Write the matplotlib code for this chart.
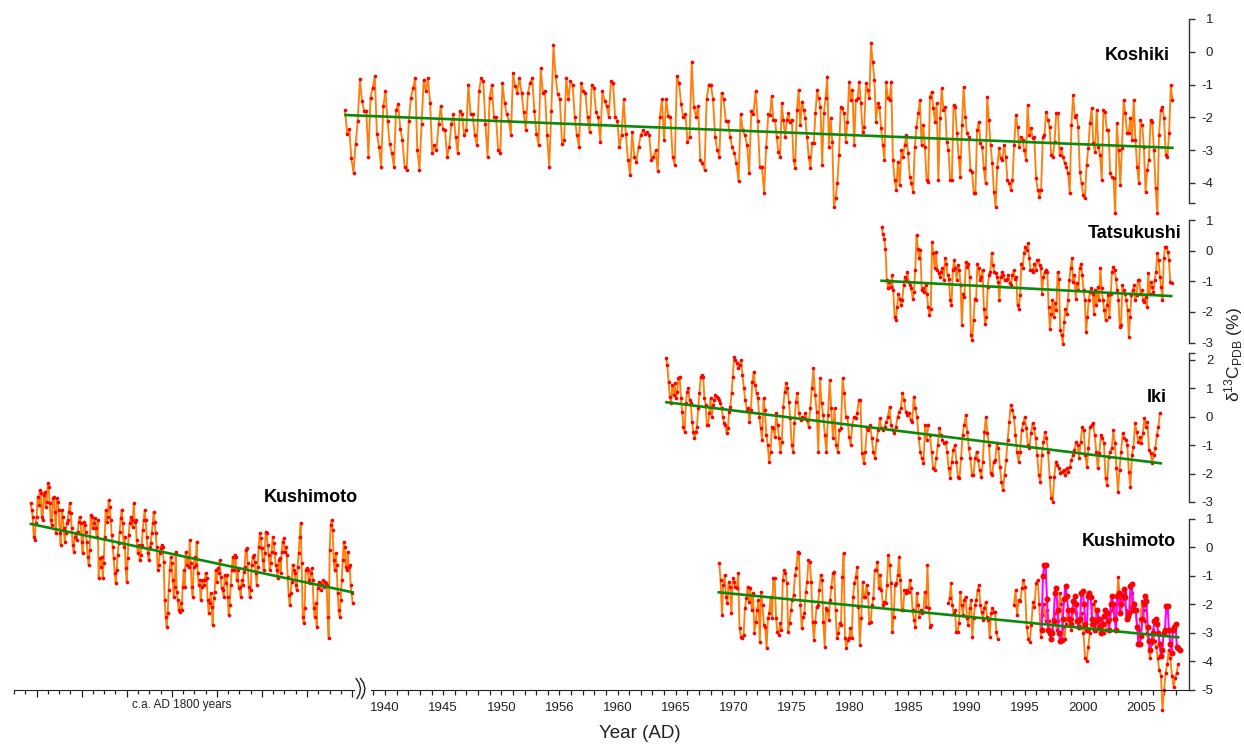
import numpy as np
import matplotlib
matplotlib.use("Agg")
import matplotlib.pyplot as plt
from matplotlib.lines import Line2D

plt.rcParams['font.family'] = ['Liberation Sans', 'DejaVu Sans']
plt.rcParams['axes.unicode_minus'] = False
plt.rcParams['mathtext.fontset'] = 'custom'
plt.rcParams['mathtext.rm'] = 'Liberation Sans'
plt.rcParams['mathtext.it'] = 'Liberation Sans:italic'
plt.rcParams['mathtext.bf'] = 'Liberation Sans:bold'

# ---------------- data (delta13C, per mil) ----------------
# time anchors: (sample index, year); times between anchors are evenly spaced
koshiki_a_anchors = [(0, 1936.56), (-1, 1972.96)]
koshiki_a = [-1.78, -2.5, -2.35, -3.25, -3.7, -2.8, -2.1, -0.84, -1.5, -1.8, -1.8, -3.2, -1.4, -1.1, -0.75, -2.5,
             -2.9, -3.5, -1.67, -1.2, -2.1, -2.8, -3.1, -3.5, -1.78, -1.6, -2.35, -2.7, -3.5, -3.6, -2.1, -1.4,
             -1.1, -0.8, -3.0, -3.6, -2.2, -0.85, -1.2, -0.8, -1.55, -3.1, -2.85, -3.0, -2.2, -1.65, -2.35, -2.4,
             -3.2, -2.9, -2.2, -1.9, -2.6, -3.1, -1.8, -1.9, -2.55, -2.4, -1.0, -1.9, -1.9, -2.55, -2.85, -1.2,
             -0.8, -0.9, -2.2, -3.2, -1.4, -1.0, -2.0, -2.0, -3.0, -3.1, -0.95, -1.55, -1.9, -2.1, -2.55, -0.65,
             -1.05, -1.25, -0.8, -1.25, -1.85, -2.4, -1.25, -0.95, -0.8, -1.8, -2.5, -2.85, -0.5, -1.25, -1.2,
             -2.55, -3.5, -1.8, 0.2, -0.75, -1.3, -1.45, -2.8, -2.7, -0.8, -1.45, -0.9, -1.0, -2.0, -2.55, -2.9,
             -0.95, -1.2, -1.25, -2.0, -2.45, -1.0, -1.1, -1.85, -2.0, -2.75, -1.2, -1.5, -1.65, -2.0, -0.9, -0.95,
             -2.0, -2.1, -2.9, -2.55, -1.45, -2.5, -3.3, -3.75, -2.45, -3.2, -3.35, -2.9, -2.55, -2.4, -2.5,
             -2.45, -2.55, -3.3, -3.2, -3.0, -3.65, -2.0, -1.45, -2.7, -1.45, -1.95, -2.0, -3.2, -3.45, -0.75,
             -0.95, -1.6, -2.0, -1.9, -2.75, -2.6, -0.3, -1.7, -2.0, -1.65, -3.3, -3.4, -3.6, -1.45, -1.0, -1.0,
             -1.45, -2.6, -3.0, -3.2, -1.25, -1.45, -2.1, -2.1, -2.6, -2.9, -3.1, -3.4, -3.95, -1.9, -2.4, -2.55,
             -2.85, -3.7, -1.8, -1.9, -1.2, -2.1, -3.5, -3.5, -4.3, -2.9, -1.9]
koshiki_b_anchors = [(0, 1973.10), (-1, 2007.71)]
koshiki_b = [-1.93, -1.35, -2.08, -2.08, -2.6, -3.05, -3.2, -1.57, -2.08, -2.6, -2.08, -1.88, -2.13, -2.08, -3.3,
             -3.56, -1.78, -1.17, -2.24, -1.52, -1.78, -2.03, -2.6, -3.2, -3.56, -2.79, -2.79, -1.88, -1.17, -1.42,
             -1.68, -3.45, -1.88, -1.42, -0.76, -2.9, -2.03, -2.74, -4.72, -4.47, -4.01, -3.15, -1.68, -1.73,
             -1.88, -2.74, -2.13, -0.91, -1.47, -1.17, -2.85, -1.47, -1.42, -0.91, -1.57, -2.44, -2.29, -0.96,
             -1.17, -1.42, 0.26, -0.3, -0.86, -2.13, -1.57, -1.68, -2.34, -2.85, -3.3, -0.91, -1.42, -1.47, -0.91,
             -3.3, -3.91, -4.21, -3.35, -4.06, -3.0, -3.2, -2.85, -2.54, -3.1, -3.81, -4.01, -4.27, -2.9, -2.29,
             -1.88, -1.47, -2.85, -2.24, -2.9, -3.91, -3.96, -1.37, -1.22, -1.73, -2.13, -1.57, -3.91, -2.03,
             -1.12, -1.78, -1.68, -2.74, -3.0, -3.91, -3.91, -1.63, -1.68, -2.49, -3.2, -3.81, -2.24, -1.07, -1.98,
             -2.49, -2.59, -3.6, -3.66, -4.32, -4.32, -2.39, -2.13, -2.79, -2.9, -3.56, -4.01, -1.37, -2.08, -2.85,
             -3.4, -4.27, -4.72, -3.5, -2.95, -3.25, -3.3, -2.85, -3.2, -3.91, -4.01, -4.21, -3.91, -2.85, -1.93,
             -2.29, -2.9, -2.6, -2.7, -3.0, -3.3, -1.63, -2.54, -2.34, -2.64, -2.6, -3.86, -4.21, -4.42, -4.21,
             -2.6, -2.54, -1.83, -2.08, -2.29, -3.15, -3.2, -2.74, -1.88, -1.88, -3.15, -2.95, -3.2, -3.4, -3.5,
             -3.71, -4.32, -2.24, -1.32, -1.98, -1.93, -2.29, -3.66, -4.01, -4.37, -4.47, -3.45, -2.95, -2.18,
             -1.73, -2.79, -3.05, -1.78, -2.9, -3.15, -3.91, -1.78, -1.83, -2.39, -2.39, -3.71, -3.81, -3.86,
             -4.93, -2.18, -3.0, -4.06, -2.95, -1.47, -1.88, -2.49, -2.49, -2.03, -2.69, -1.47, -2.69, -3.5, -4.01,
             -2.08, -2.24, -2.9, -4.27, -3.6, -3.3, -2.08, -2.13, -3.0, -4.16, -4.93, -2.54, -1.78, -1.68, -2.03,
             -3.15, -3.2, -2.49, -1.02, -1.47]
koshiki_trend_years = [1936.6, 2007.7]
koshiki_trend = [-1.93, -2.93]

tatsukushi_anchors = [(0, 1982.70), (-1, 2007.63)]
tatsukushi = [0.78, 0.54, 0.37, 0.07, -0.96, -1.23, -1.02, -1.18, -0.80, -1.29, -2.16, -2.27, -1.83, -1.40, -1.56,
              -1.78, -1.61, -1.12, -0.85, -0.96, -0.69, -1.02, -1.12, -1.23, -1.56, -1.34, -0.63, 0.51, 0.07, -0.25,
              0.02, -1.29, -1.23, -1.34, -1.12, -1.40, -1.83, -2.10, -1.89, 0.29, -0.09, -0.58, -0.03, -0.63, -0.74,
              -0.85, -0.69, -0.58, -0.96, -0.25, -0.42, -0.80, -0.91, -1.61, -1.78, -0.63, -0.31, -0.58, -0.96,
              -0.47, -0.63, -1.12, -2.43, -1.40, -1.50, -0.36, -0.52, -0.42, -0.85, -2.76, -2.92, -2.27, -1.56,
              -1.61, -0.42, -0.58, -0.96, -0.85, -0.63, -1.89, -2.38, -2.16, -1.18, -0.80, -0.69, -0.09, -0.47,
              -0.69, -0.74, -0.85, -1.02, -1.61, -0.85, -0.69, -0.80, -0.96, -0.96, -0.91, -0.80, -1.07, -1.12,
              -0.80, -0.63, -0.91, -0.85, -1.78, -1.89, -1.45, -0.42, -0.58, -0.09, 0.13, 0.02, 0.24, -0.25, -0.63,
              -0.63, -0.69, -0.42, -0.63, -0.31, -0.31, -0.47, -0.58, -1.40, -0.85, -0.69, -0.63, -0.69, -1.83,
              -2.54, -2.05, -1.61, -2.16, -1.72, -1.94, -0.69, -0.91, -2.60, -2.76, -3.03, -2.32, -1.89, -2.05,
              -1.61, -0.96, -0.58, -0.25, -1.02, -0.80, -1.56, -1.07, -1.29, -0.58, -0.42, -0.80, -1.29, -1.61,
              -2.65, -2.16, -1.61, -1.34, -1.23, -1.40, -2.05, -1.29, -1.78, -1.18, -1.61, -0.58, -1.23, -1.61,
              -1.94, -2.27, -1.78, -1.45, -2.16, -1.40, -0.69, -0.52, -0.63, -0.91, -1.29, -1.61, -2.49, -2.43,
              -1.12, -1.29, -1.40, -1.61, -1.94, -2.81, -2.16, -1.45, -1.29, -1.12, -1.61, -1.45, -0.96, -0.96,
              -1.40, -1.29, -1.61, -1.67, -1.50, -1.83, -0.74, -1.40, -1.02, -1.18, -1.34, -0.96, -0.69, -0.09,
              -0.31, -0.85, -1.18, -1.61, -0.25, 0.13, 0.13, -0.03, -0.31, -1.02, -1.05]
tatsukushi_trend_years = [1982.7, 2007.6]
tatsukushi_trend = [-0.98, -1.48]

iki_a_anchors = [(0, 1964.17), (55, 1970.01), (100, 1975.45), (-1, 1986.72)]
iki_a = [2.06, 1.82, 1.21, 0.71, 0.47, 1.12, 0.76, 1.18, 0.65, 0.88, 1.35, 1.41, 0.65, 0.18, -0.35, -0.53, 0.47,
         0.88, 1.0, 0.59, 0.47, -0.18, -0.53, -0.76, -0.53, -0.35, 0.29, 0.82, 1.41, 1.47, 1.41, 0.65, 0.41, -0.29,
         -0.29, 0.12, 0.65, 0.0, 0.41, 0.59, 0.76, 0.71, 0.65, 0.59, 0.47, 0.29, 0.0, -0.23, -0.29, -0.59, -0.41,
         0.18, 0.35, 0.82, 1.41, 2.11, 2.0, 1.88, 1.70, 1.82, 2.0, 1.47, 1.0, 0.59, 0.24, 0.29, -0.18, 0.24, 1.23,
         1.59, 1.12, 0.82, 0.65, 0.0, -0.41, -0.82, 0.65, 0.24, -0.64, -1.0, -1.58, -1.23, -0.35, -0.41, -0.70,
         0.12, -0.29, -0.76, -1.23, -0.88, 0.35, 0.88, 1.18, 1.0, 0.53, -0.06, -1.0, -1.23, -0.23, 0.53, 0.82,
         0.12, -0.12, 0.0, -0.06, 0.12, -0.12, -0.35, 0.29, 1.0, 1.70, 0.76, 0.18, -1.23, 1.35, 0.47, 0.06, -0.64,
         -1.23, 0.06, 1.29, 0.29, -0.76, 0.29, -1.0, -1.23, -0.47, -0.41, 1.35, 0.82, 0.0, 0.0, -0.70, -1.0,
         -0.29, 0.0, -0.06, 0.12, 0.59, 0.59, -1.29, -1.64, -1.23, -0.41, -0.47, -0.29, -0.76, -1.23, -1.47,
         -0.82, -0.47, -0.06, -0.41, -0.47, -0.35, -0.18, 0.0, 0.35, -0.29, -0.47, -0.59, -0.35, 0.0, 0.18, 0.29,
         0.82, 0.59, 0.18, 0.06, 0.12, -0.12, -0.18, 0.71, 0.29, 0.0, -0.76, -1.23, -1.47, -1.64, -0.29, -0.82,
         -0.29]
iki_b_anchors = [(0, 1986.86), (-1, 2006.63)]
iki_b = [-0.64, -1.23, -1.82, -1.88, -1.47, -1.0, -0.41, -0.64, -0.82, -0.94, -0.88, -1.23, -1.82, -2.17, -1.58,
         -1.17, -1.0, -1.58, -2.11, -2.17, -1.47, -0.64, -0.29, 0.06, -0.53, -1.11, -1.47, -2.05, -2.05, -1.47,
         -1.23, -1.53, -1.88, -2.11, -1.58, -0.53, 0.0, -0.59, -1.0, -1.99, -2.05, -1.58, -1.53, -0.94, -1.11,
         -1.76, -2.29, -2.58, -2.05, -1.53, -0.82, -0.18, 0.41, 0.24, 0.0, -0.64, -1.23, -1.58, -1.23, -0.47,
         -0.23, 0.0, -0.41, -1.0, -1.11, -0.59, -0.23, -0.41, -0.76, -1.35, -2.05, -2.29, -1.35, -0.88, -0.53,
         -0.76, -1.23, -2.11, -2.88, -2.99, -2.11, -1.58, -1.70, -1.82, -1.99, -1.94, -1.88, -2.05, -1.82, -1.94,
         -1.76, -1.53, -1.35, -1.17, -0.88, -1.0, -1.47, -0.88, -0.35, -0.47, -1.35, -1.76, -1.11, -0.35, -0.29,
         -0.23, -0.64, -1.23, -1.82, -1.29, -0.64, -0.76, -0.94, -2.17, -2.40, -1.41, -1.23, -1.11, -0.47, -0.94,
         -1.82, -2.64, -1.88, -1.23, -0.59, -0.76, -0.82, -1.0, -1.94, -2.46, -1.35, -1.05, -0.23, -0.53, -0.88,
         -0.70, -0.94, -0.59, -0.06, -0.35, -0.18, -1.17, -1.29, -1.64, -1.35, -1.11, -0.64, -0.35, 0.12]
iki_trend_years = [1964.2, 2006.7]
iki_trend = [0.51, -1.64]

kushimoto_a_anchors = [(0, 1968.74), (-1, 1986.99)]
kushimoto_a = [-0.56, -1.15, -2.38, -1.32, -0.97, -1.73, -1.97, -1.21, -1.38, -2.32, -1.09, -1.21, -1.38, -1.44,
               -0.91, -2.84, -3.14, -3.19, -3.08, -2.14, -1.79, -1.38, -1.91, -1.44, -2.2, -1.62, -3.02, -2.61,
               -2.2, -1.85, -3.31, -1.56, -2.03, -2.73, -2.79, -3.55, -2.49, -2.32, -1.73, -2.49, -1.09, -1.09,
               -2.49, -2.96, -3.08, -2.67, -2.9, -1.15, -0.8, -0.91, -1.27, -2.96, -2.67, -2.2, -1.85, -1.67, -0.97,
               -0.74, -0.15, -0.21, -2.03, -2.84, -2.43, -2.32, -1.56, -1.21, -0.45, -0.5, -1.21, -2.61, -3.25,
               -2.61, -2.08, -2.03, -1.5, -0.97, -1.15, -2.61, -3.49, -2.14, -2.2, -2.55, -1.85, -1.38, -0.91,
               -0.85, -2.2, -3.19, -3.02, -2.67, -2.73, -1.03, -0.21, -3.19, -3.55, -3.25, -3.19, -2.84, -3.19,
               -1.73, -1.27, -1.03, -0.68, -2.08, -3.43, -2.49, -1.21, -1.73, -1.73, -1.32, -1.62, -2.67, -2.61,
               -2.03, -1.79, -0.8, -0.8, -0.5, -1.44, -0.97, -1.5, -2.03, -1.91, -1.97, -1.32, -0.27, -0.62, -1.27,
               -2.96, -2.43, -1.32, -1.27, -0.97, -0.33, -1.15, -2.2, -2.2, -1.5, -1.62, -1.5, -1.56, -1.15, -1.44,
               -2.2, -2.55, -2.79, -1.62, -2.03, -2.43, -2.2, -2.32, -2.26, -1.56, -2.08, -0.62, -2.14, -2.79,
               -2.73]
kushimoto_b_anchors = [(0, 1988.43), (-1, 1992.68)]
kushimoto_b = [-1.97, -1.79, -1.27, -2.03, -2.32, -2.2, -2.96, -2.96, -2.67, -1.56, -2.03, -2.38, -1.85, -1.73,
               -2.49, -2.73, -2.14, -1.85, -3.14, -2.49, -2.03, -1.85, -1.5, -1.32, -2.03, -2.26, -2.55, -2.14,
               -1.91, -2.43, -2.55, -3.14, -2.32, -2.14, -2.26, -2.26, -2.96, -3.2]
kushimoto_c_anchors = [(0, 1994.08), (-1, 2008.21)]
kushimoto_c = [-2.02, -1.5, -2.38, -1.85, -1.9, -1.44, -1.15, -1.4, -2.79, -3.2, -3.31, -2.73, -1.91, -2.08, -1.26,
               -1.15, -2.0, -3.14, -2.38, -2.0, -2.6, -2.2, -2.6, -3.0, -2.9, -2.5, -2.3, -2.9, -2.6, -1.6, -2.0,
               -2.8, -3.2, -2.7, -2.2, -2.5, -2.9, -2.5, -2.0, -2.3, -2.6, -2.8, -2.6, -2.3, -3.0, -3.9, -4.0, -3.5,
               -3.0, -2.7, -2.0, -1.9, -2.6, -2.8, -2.7, -2.5, -2.7, -3.0, -2.9, -2.5, -2.3, -2.5, -2.2, -2.1, -2.5,
               -2.0, -1.05, -1.8, -2.3, -1.8, -1.6, -2.2, -2.5, -2.3, -2.1, -1.6, -2.0, -2.2, -2.8, -2.9, -2.5,
               -1.9, -2.2, -2.6, -3.0, -3.3, -3.9, -3.4, -2.9, -3.3, -3.5, -3.9, -4.3, -4.5, -5.7, -5.0, -4.4,
               -4.1, -3.6, -3.9, -4.5, -4.9, -4.6, -4.4, -4.1]
kushimoto_m_anchors = [(0, 1996.46), (-1, 2008.32)]
kushimoto_m = [-2.9, -1.0, -0.62, -0.62, -1.8, -2.9, -3.0, -3.2, -3.0, -2.6, -1.6, -1.44, -2.2, -3.0, -3.3, -3.25,
               -2.5, -1.8, -1.35, -1.7, -2.2, -2.5, -2.7, -2.2, -1.9, -1.7, -2.0, -2.6, -2.8, -2.5, -1.6, -1.55,
               -2.0, -2.7, -2.9, -1.7, -1.6, -1.75, -2.5, -2.7, -2.9, -2.6, -2.2, -2.5, -2.8, -3.0, -2.7, -2.4,
               -2.2, -2.3, -2.6, -2.9, -2.0, -1.7, -2.0, -2.5, -2.9, -1.7, -1.6, -2.3, -2.0, -1.7, -1.45, -1.75,
               -2.5, -2.4, -2.3, -1.35, -1.3, -2.2, -2.0, -2.2, -2.8, -3.4, -3.4, -3.1, -2.5, -2.0, -1.7, -1.9,
               -2.8, -3.3, -3.6, -3.3, -3.0, -2.6, -2.5, -2.7, -3.0, -3.4, -3.8, -3.6, -3.0, -2.9, -2.05, -2.05,
               -2.9, -3.4, -3.7, -2.9, -2.8, -2.7, -3.5, -3.55, -3.6]
kushimoto_trend_years = [1968.7, 2008.2]
kushimoto_trend = [-1.58, -3.16]

old_anchors = [(0, 1801.48), (-1, 1830.05)]
old_kushimoto = [1.54, 1.31, 1.07, 0.37, 0.26, 0.84, 1.07, 1.78, 1.48, 2.01, 1.89, 1.07, 0.96, 1.84, 1.95, 1.43,
                 1.60, 2.24, 2.13, 1.54, 0.96, 0.78, 1.72, 1.78, 1.25, 0.49, 1.72, 1.60, 1.31, 0.49, 0.08, 1.31,
                 1.07, 0.66, 0.20, 0.49, 0.84, 0.96, 1.25, 1.54, 1.19, 0.66, 0.08, -0.15, 0.37, 0.49, 0.26, 0.55,
                 0.90, 1.07, 0.84, 0.20, -0.21, 0.90, 0.78, 0.55, 0.20, -0.33, -0.62, -0.09, 1.13, 1.07, 0.66, 0.84,
                 1.02, 0.66, 0.37, 0.96, -1.09, -0.39, -0.68, -0.33, -1.09, -0.56, 0.37, 1.31, 0.90, 1.07, 1.66,
                 1.43, 0.96, 0.43, 0.02, -0.39, -0.91, -1.26, -0.80, -0.27, 0.14, 0.55, 1.02, 1.31, 0.84, 0.02,
                 0.37, -0.74, -1.21, -0.39, 0.43, 0.84, 1.07, 0.96, 0.72, 1.54, 0.90, 0.96, 0.26, -0.21, 0.08,
                 -0.45, -0.27, 0.08, 0.61, 0.96, 1.31, 0.96, 0.37, -0.21, -0.45, 0.02, 0.14, 0.49, 0.84, 1.25, 0.90,
                 0.49, 0.02, -0.80, -0.62, -0.21, -0.04, 0.08, 0.02, -0.50, -1.85, -2.43, -2.78, -2.32, -1.50,
                 -0.80, -0.33, -0.56, -1.15, -1.73, -1.38, -0.15, -1.56, -1.85, -2.20, -2.26, -1.97, -2.20, -1.38,
                 -0.80, -1.38, -0.15, -0.62, -0.33, -0.68, 0.26, -0.56, -1.38, -1.73, -0.68, -0.33, -0.62, 0.20,
                 -0.91, -1.32, -1.15, -1.85, -1.38, -1.15, -1.32, -1.15, -0.91, -1.09, -1.85, -2.32, -1.97, -1.62,
                 -2.08, -2.73, -1.79, -1.56, -0.80, -1.21, -0.74, -0.91, -0.45, -1.03, -1.44, -1.50, -1.73, -0.97,
                 -1.26, -0.97, -1.73, -2.38, -2.03, -1.32, -0.80, -0.33, -0.80, -0.27, -0.33, -1.15, -0.80, -1.44,
                 -1.38, -1.73, -1.15, -1.32, -0.86, -0.68, -0.09, -0.04, -0.56, -1.38, -1.73, -1.50, -0.62, -0.33,
                 -0.27, -0.50, -0.91, -1.32, -0.68, 0.02, 0.49, 0.31, -0.04, -0.45, -0.80, -0.21, 0.55, 0.49, 0.08,
                 -0.27, -0.80, -0.56, -0.15, 0.37, 0.14, -0.21, -0.62, -0.80, -1.09, -0.45, -0.39, -0.91, -0.15,
                 0.20, 0.31, -0.15, 0.02, -0.27, -1.03, -1.67, -2.03, -1.62, -1.21, -0.62, -0.80, -0.91, -1.32,
                 -1.50, -0.68, -0.21, 0.37, 0.84, -0.56, -2.43, -2.67, -2.14, -0.80, -0.74, -0.80, -1.15, -1.26,
                 -0.91, -0.74, -1.15, -2.14, -2.43, -1.97, -2.78, -1.44, -1.21, -1.26, -1.50, -1.32, -1.15, -1.38,
                 -1.21, -1.26, -1.32, -2.43, -3.19, -0.09, 0.78, 0.96, 0.61, -0.45, -0.80, -0.21, -0.62, -1.62,
                 -2.20, -2.43, -1.85, -1.15, -0.45, 0.20, 0.02, -0.68, -0.80, -0.15, -0.68, -0.62, -1.32, -1.62,
                 -1.97]
old_trend_years = [1801.5, 1830.05]
old_trend = [0.82, -1.58]

year_ticks = [1940, 1945, 1950, 1955, 1960, 1965, 1970, 1975, 1980, 1985, 1990, 1995, 2000, 2005]
year_labels = ['1940', '1945', '1950', '1956', '1960', '1965', '1970', '1975', '1980', '1985', '1990', '1995',
               '2000', '2005']

# ---------------- style / layout ----------------
ORANGE = '#FF7F0E'
RED = '#FF0000'
GREEN = '#0A8A0A'
MAGENTA = '#FF00FF'
W, H = 1244, 744
PX_REF, YEAR_REF, PX_PER_YR = 385.0, 1940.0, 11.63
RX0, RX1 = 300, 1189

fig = plt.figure(figsize=(W / 100, H / 100), dpi=100)


def rect(x0, y0, x1, y1):
    return [x0 / W, 1 - y1 / H, (x1 - x0) / W, (y1 - y0) / H]


XL = (YEAR_REF + (RX0 - PX_REF) / PX_PER_YR, YEAR_REF + (RX1 - PX_REF) / PX_PER_YR)


def times(anchors, n):
    idx = [i if i >= 0 else n + i for i, _ in anchors]
    yrs = [y for _, y in anchors]
    return np.interp(np.arange(n), idx, yrs)


def panel(top, bottom, ylim, yticks, end_tick=None):
    ax = fig.add_axes(rect(RX0, top, RX1, bottom))
    ax.set_xlim(XL)
    ax.set_ylim(ylim)
    ax.patch.set_alpha(0)
    for s in ['top', 'left', 'bottom']:
        ax.spines[s].set_visible(False)
    ax.spines['right'].set_linewidth(1.0)
    ax.spines['right'].set_color('#333333')
    ax.yaxis.tick_right()
    ax.set_yticks(yticks)
    ax.set_yticklabels([str(t) for t in yticks])
    if end_tick is not None:
        ax.set_yticks([end_tick], minor=True)
    ax.tick_params(axis='y', which='both', direction='out', length=4, width=1.0, pad=13.5,
                   labelsize=9.5, color='#333333', labelcolor='#222222')
    for lab in ax.get_yticklabels():
        lab.set_ha('right')
    ax.set_xticks([])
    return ax


def series(ax, anchors, vals, color=ORANGE, ms=2.6, lw=1.35, z=2):
    t = times(anchors, len(vals))
    ax.plot(t, vals, '-', color=color, lw=lw, marker='o', ms=ms, mfc=RED, mec=RED, mew=0,
            clip_on=False, zorder=z)


def trend(ax, ty, tv):
    ax.plot(ty, tv, '-', color=GREEN, lw=1.9, clip_on=False, zorder=4)


ax_ko = panel(18.9, 202.6, (-4.6, 1.0), [1, 0, -1, -2, -3, -4], end_tick=-4.6)
ax_ta = panel(220.05, 342.65, (-3.0, 1.0), [1, 0, -1, -2, -3])
ax_ik = panel(352.8, 501.9, (-3.0, 2.25), [2, 1, 0, -1, -2, -3], end_tick=2.25)
ax_ku = panel(518.8, 689.8, (-5.0, 1.0), [1, 0, -1, -2, -3, -4, -5])

# bottom time axis on the lowest panel
ax_ku.spines['bottom'].set_visible(True)
ax_ku.spines['bottom'].set_color('#222222')
ax_ku.spines['bottom'].set_bounds(1938.8, XL[1])
ax_ku.set_xticks(year_ticks)
ax_ku.set_xticklabels(year_labels)
ax_ku.set_xticks([y for y in range(1939, 2009) if y not in year_ticks], minor=True)
ax_ku.tick_params(axis='x', which='both', direction='out', length=3.5, width=0.9, pad=5,
                  labelsize=9.5, color='#222222', labelcolor='#222222')

series(ax_ko, koshiki_a_anchors, koshiki_a)
series(ax_ko, koshiki_b_anchors, koshiki_b)
trend(ax_ko, koshiki_trend_years, koshiki_trend)

series(ax_ta, tatsukushi_anchors, tatsukushi)
trend(ax_ta, tatsukushi_trend_years, tatsukushi_trend)

series(ax_ik, iki_a_anchors, iki_a)
series(ax_ik, iki_b_anchors, iki_b)
trend(ax_ik, iki_trend_years, iki_trend)

series(ax_ku, kushimoto_a_anchors, kushimoto_a)
series(ax_ku, kushimoto_b_anchors, kushimoto_b)
series(ax_ku, kushimoto_c_anchors, kushimoto_c)
series(ax_ku, kushimoto_m_anchors, kushimoto_m, color=MAGENTA, ms=4.3, lw=1.5, z=3)
trend(ax_ku, kushimoto_trend_years, kushimoto_trend)

# left (ca. AD 1800) section
ax_old = fig.add_axes(rect(14, 473.2, 354, 689.8))
ax_old.set_xlim(1800, 1800 + 340 / 11.27)
ax_old.set_ylim(-5.0, 2.6)
ax_old.patch.set_alpha(0)
for s in ['top', 'left', 'right']:
    ax_old.spines[s].set_visible(False)
ax_old.spines['bottom'].set_color('#222222')
ax_old.set_yticks([])
ax_old.set_xticks(list(range(1802, 1831, 4)))
ax_old.set_xticks([y for y in range(1800, 1831) if (y - 1802) % 4 != 0], minor=True)
ax_old.tick_params(axis='x', which='major', direction='out', length=5, width=0.9, labelbottom=False,
                   color='#222222')
ax_old.tick_params(axis='x', which='minor', direction='out', length=3, width=0.9, color='#222222')
series(ax_old, old_anchors, old_kushimoto)
trend(ax_old, old_trend_years, old_trend)

# axis break symbol
for dx in (0.0, 4.5):
    bx = np.array([356.0, 359.0, 360.5, 359.5, 357.0]) + dx
    by = np.array([678.5, 683.0, 688.5, 694.0, 698.5])
    fig.add_artist(Line2D(bx / W, 1 - by / H, transform=fig.transFigure, color='#222222', lw=1.0))


# texts
def label(x, y, s, **kw):
    fig.text(x / W, 1 - y / H, s, **kw)


label(1170, 55, 'Koshiki', ha='right', va='center', fontsize=13, fontweight='bold')
label(1181, 233, 'Tatsukushi', ha='right', va='center', fontsize=13, fontweight='bold')
label(1167, 398, 'Iki', ha='right', va='center', fontsize=13, fontweight='bold')
label(1176, 541, 'Kushimoto', ha='right', va='center', fontsize=13, fontweight='bold')
label(358, 498, 'Kushimoto', ha='right', va='center', fontsize=13, fontweight='bold')
label(182, 705, 'c.a. AD 1800 years', ha='center', va='center', fontsize=8.5, color='#222222')
label(640, 734, 'Year (AD)', ha='center', va='center', fontsize=13.5, color='#222222')
label(1234, 355, 'δ$^{13}$C$_{\\mathrm{PDB}}$ (%)', ha='center', va='center', fontsize=12.5,
      rotation=90, color='#222222')

fig.savefig('out.png', dpi=100)
